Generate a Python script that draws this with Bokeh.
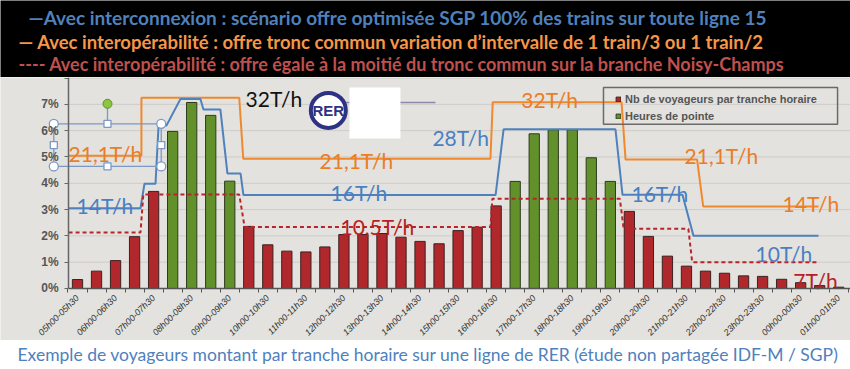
import numpy as np
from bokeh.plotting import figure
from bokeh.models import Range1d, FixedTicker, Legend, LegendItem, ColumnDataSource, LinearAxis
from bokeh.layouts import column
from bokeh.embed import file_html
from bokeh.resources import INLINE
from bokeh.core.properties import value

# ---------------- data ----------------
tranches = ["05h00-05h30", "06h00-06h30", "07h00-07h30", "08h00-08h30", "09h00-09h30",
            "10h00-10h30", "11h00-11h30", "12h00-12h30", "13h00-13h30", "14h00-14h30",
            "15h00-15h30", "16h00-16h30", "17h00-17h30", "18h00-18h30", "19h00-19h30",
            "20h00-20h30", "21h00-21h30", "22h00-22h30", "23h00-23h30", "00h00-00h30",
            "01h00-01h30"]

# share of passengers per half-hour slot (%), 05h00 -> 01h30
voyageurs = [0.34, 0.66, 1.06, 1.97, 3.69, 5.97, 7.07, 6.58, 4.08, 2.36,
             1.66, 1.42, 1.39, 1.58, 2.05, 2.05, 2.09, 1.95, 1.79, 1.70,
             2.20, 2.33, 3.14, 4.07, 5.88, 6.03, 6.03, 4.97, 4.07, 2.93,
             1.98, 1.23, 0.85, 0.66, 0.58, 0.48, 0.46, 0.35, 0.22, 0.11, 0.05]
pointe = [0, 0, 0, 0, 0, 1, 1, 1, 1, 0,
          0, 0, 0, 0, 0, 0, 0, 0, 0, 0,
          0, 0, 0, 1, 1, 1, 1, 1, 1, 0,
          0, 0, 0, 0, 0, 0, 0, 0, 0, 0, 0]
y_ticks = [0, 1, 2, 3, 4, 5, 6, 7, 8]
y_tick_labels = ["0%", "1%", "2%", "3%", "4%", "5%", "6%", "7%", ""]

# offer step lines (x in slot index, y in chart %)
inter_x = [-0.47, 3.31, 3.52, 4.10, 4.26, 4.68, 5.41, 6.46, 6.62, 7.51, 7.88, 8.57, 8.72,
           21.97, 22.39, 28.27, 28.64, 31.79, 32.37, 38.94]
inter_y = [3.05, 3.05, 3.98, 3.98, 6.20, 6.20, 7.20, 7.20, 6.80, 6.80, 4.37, 4.37, 3.55,
           3.55, 6.05, 6.05, 3.56, 3.56, 2.00, 2.00]
interop_x = [-0.47, 3.36, 3.36, 8.50, 8.71, 21.70, 21.82, 28.59, 28.80, 32.56, 32.88, 38.94]
interop_y = [5.05, 5.05, 7.25, 7.25, 4.93, 4.93, 7.08, 7.08, 4.90, 4.90, 3.12, 3.12]
moitie_x = [-0.47, 3.31, 3.46, 8.50, 8.78, 21.70, 21.80, 28.50, 28.70, 32.10, 32.30, 38.90]
moitie_y = [2.13, 2.13, 3.57, 3.57, 2.34, 2.34, 3.41, 3.41, 2.27, 2.27, 1.00, 1.00]

# frequency annotations
ann_text = ["21,1T/h", "14T/h", "32T/h", "21,1T/h", "16T/h", "10,5T/h", "32T/h",
            "28T/h", "21,1T/h", "16T/h", "14T/h", "10T/h", "7T/h"]
ann_kind = ["o", "b", "k", "o", "b", "r", "o", "b", "o", "b", "o", "b", "r"]

# ---------------- styles / positions ----------------
BG = "#e3e2de"
BLUE = "#4f81bd"
ORANGE = "#f0892e"
RED = "#b8242a"
kind_color = {"o": "#ea7d28", "b": "#4a7fc2", "k": "#111111", "r": "#b51f25"}
ann_x = [-0.47, -0.05, 8.83, 12.72, 13.30, 13.82, 23.32, 18.65, 31.90, 29.11, 37.05, 35.63, 37.61]
ann_y = [5.15, 3.16, 7.21, 4.87, 3.66, 2.36, 7.19, 5.75, 5.06, 3.62, 3.22, 1.32, 0.30]

W = 850
H_HEAD, H_CHART, H_CAP = 77, 263, 29

idx = np.arange(len(voyageurs))
vals = np.array(voyageurs)
pk = np.array(pointe) == 1

p = figure(width=W, height=H_CHART, x_range=Range1d(-4.046, 40.62), y_range=Range1d(-1.977, 8.02),
           output_backend="svg", toolbar_location=None, title=None, min_border=0,
           background_fill_color=BG, border_fill_color=BG, outline_line_color=None,
           x_axis_type=None, y_axis_type=None)

# grid lines
yt = y_ticks[1:]
p.segment(x0=[-0.47] * len(yt), x1=[40.62] * len(yt), y0=yt, y1=yt, line_color="#cdccc8", line_width=1)

# axes
yaxis = LinearAxis(fixed_location=-0.47, bounds=(0, 8.02), ticker=FixedTicker(ticks=y_ticks),
                   major_label_overrides={t: lab for t, lab in zip(y_ticks, y_tick_labels)})
yaxis.axis_line_color = "#666666"
yaxis.axis_line_width = 1.5
yaxis.major_tick_line_color = "#666666"
yaxis.major_tick_out = 4
yaxis.major_tick_in = 0
yaxis.minor_tick_line_color = None
yaxis.major_label_standoff = 6
yaxis.major_label_text_font = "Liberation Sans"
yaxis.major_label_text_font_style = "bold"
yaxis.major_label_text_font_size = "12px"
yaxis.major_label_text_color = "#555555"
p.add_layout(yaxis, "left")

tick_pos = [int(2 * i) for i in range(len(tranches))]
xaxis = LinearAxis(fixed_location=0, bounds=(-0.47, 40.62),
                   ticker=FixedTicker(ticks=tick_pos, minor_ticks=[i + 0.5 for i in range(-1, 41)]),
                   major_label_overrides={t: lab for t, lab in zip(tick_pos, tranches)})
xaxis.axis_line_color = "#555555"
xaxis.axis_line_width = 1.5
xaxis.major_tick_line_color = None
xaxis.minor_tick_line_color = "#555555"
xaxis.minor_tick_out = 4
xaxis.minor_tick_in = 0
xaxis.major_label_orientation = np.pi / 4
xaxis.major_label_standoff = 2
xaxis.major_label_text_font = "Liberation Sans"
xaxis.major_label_text_font_style = "italic"
xaxis.major_label_text_font_size = "9px"
xaxis.major_label_text_color = "#333333"
p.add_layout(xaxis, "below")

# bars
r_red = p.vbar(x=idx[~pk], top=vals[~pk], width=0.54, fill_color="#b0282c", line_color="#3a2222", line_width=1)
r_green = p.vbar(x=idx[pk], top=vals[pk], width=0.54, fill_color="#62912c", line_color="#2e3a1e", line_width=1)

# offer lines
p.line(interop_x, interop_y, line_color=ORANGE, line_width=2)
p.line(inter_x, inter_y, line_color=BLUE, line_width=2)
p.line(moitie_x, moitie_y, line_color=RED, line_width=2, line_dash="4 3")

src = ColumnDataSource(dict(x=ann_x, y=ann_y, t=ann_text, c=[kind_color[k] for k in ann_kind]))
p.text(x="x", y="y", text="t", text_color="c", source=src, text_font=value("Lato"),
       text_font_size="21px", text_baseline="alphabetic", text_align="left")

# RER logo + white patch
p.segment(x0=[14.08], x1=[18.81], y0=[7.07], y1=[7.07], line_color="#8a8aa8", line_width=1.5)
p.scatter([13.18], [6.77], marker="circle", size=35, fill_color="white", line_color="#2f3183", line_width=4)
p.text([13.18], [6.77], text=["RER"], text_font=value("Liberation Sans"), text_font_style="bold",
       text_font_size="15px", text_color="#2f3183", text_align="center", text_baseline="middle")
p.quad(left=[14.29], right=[16.97], bottom=[5.70], top=[7.64], fill_color="white", line_color=None)

# legend frame
p.quad(left=[27.64], right=[39.94], bottom=[6.24], top=[7.64], fill_color=None, line_color="#6a6a6a", line_width=1.5)
legend = Legend(items=[LegendItem(label="Nb de voyageurs par tranche horaire", renderers=[r_red]),
                       LegendItem(label="Heures de pointe", renderers=[r_green])],
                location=(615, 218), border_line_color=None, background_fill_alpha=0,
                glyph_width=6, glyph_height=6, label_standoff=4, padding=2, spacing=5,
                label_height=12, margin=0, label_text_font="Liberation Sans",
                label_text_font_style="bold", label_text_font_size="11px", label_text_color="#555555")
p.add_layout(legend)

# PowerPoint selection handles around the first label
sl, sr, sb, st = -1.245, 4.40, 4.64, 6.26
sm, sc = 1.576, 5.45
p.quad(left=[sl], right=[sr], bottom=[sb], top=[st], fill_color=None, line_color="#7b98c6", line_width=1.3)
p.segment(x0=[sm], x1=[sm], y0=[st], y1=[7.02], line_color="#7b98c6", line_width=1.3)
p.scatter([sl, sr, sl, sr], [st, st, sb, sb], marker="circle", size=9, fill_color="white",
          line_color="#7b98c6", line_width=1.3)
p.scatter([sm, sl, sr, sm], [st, sc, sc, sb], marker="square", size=7, fill_color="white",
          line_color="#7b98c6", line_width=1.3)
p.scatter([sm], [7.02], marker="circle", size=9, fill_color="#8cc63e", line_color="#5f8f2f", line_width=1)

# ---------------- header ----------------
h = figure(width=W, height=H_HEAD, x_range=Range1d(0, W), y_range=Range1d(H_HEAD, 0),
           output_backend="svg", toolbar_location=None, title=None, min_border=0,
           background_fill_color="black", border_fill_color="black", outline_line_color=None,
           x_axis_type=None, y_axis_type=None)
head = ["—Avec interconnexion : scénario offre optimisée SGP 100% des trains sur toute ligne 15",
        "— Avec interopérabilité : offre tronc commun variation d’intervalle de 1 train/3 ou 1 train/2",
        "---- Avec interopérabilité : offre égale à la moitié du tronc commun sur la branche Noisy-Champs"]
head_col = ["#4f81bd", "#f79646", "#c0504d"]
head_size = ["19px", "18.5px", "18px"]
for t, col, fs, xx, yy in zip(head, head_col, head_size, [28, 18, 18], [17, 41, 63]):
    h.text([xx], [yy], text=[t], text_color=col, text_font=value("Lato"), text_font_style="bold",
           text_font_size=fs, text_baseline="middle", text_align="left")

# ---------------- caption ----------------
c = figure(width=W, height=H_CAP, x_range=Range1d(0, W), y_range=Range1d(H_CAP, 0),
           output_backend="svg", toolbar_location=None, title=None, min_border=0,
           background_fill_color="white", border_fill_color="white", outline_line_color=None,
           x_axis_type=None, y_axis_type=None)
c.text([17], [14], text=["Exemple de voyageurs montant par tranche horaire sur une ligne de RER (étude non partagée IDF-M / SGP)"],
       text_color="#4f81bd", text_font=value("Lato"), text_font_size="17.5px",
       text_baseline="middle", text_align="left")

layout = column(h, p, c, spacing=0)
open("out.html", "w").write(file_html(layout, INLINE))
